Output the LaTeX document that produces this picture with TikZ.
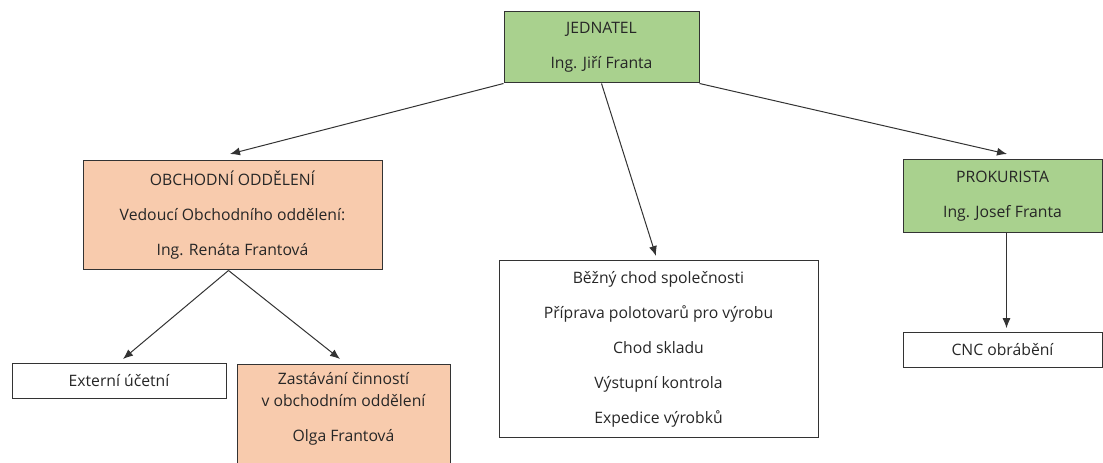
\documentclass[tikz,border=0pt]{standalone}
\usepackage{fontspec}
\setmainfont{Open Sans}
\usepackage{tikz}
\usetikzlibrary{positioning}
\usetikzlibrary{arrows.meta}
\definecolor{leadgreen}{HTML}{A9D18E}
\definecolor{deptorange}{HTML}{F8CBAD}
\definecolor{edgegray}{HTML}{333333}
\tikzset{>={Latex[length=7.5pt,width=6pt]}}
\tikzset{unit/.style={draw=edgegray,line width=0.75pt,inner sep=0pt,align=center,
                      text=black!85,font=\fontsize{11.8}{26.25}\selectfont}}
\tikzset{lead/.style={unit,fill=leadgreen}}
\tikzset{dept/.style={unit,fill=deptorange}}
\tikzset{link/.style={->,edgegray,line width=0.75pt}}

\begin{document}
\begin{tikzpicture}[x=0.75pt,y=-0.75pt]

\useasboundingbox (0,0) rectangle (1103,463);

% Jednatel
\node[lead,minimum width=146.25pt,minimum height=53.25pt] (jednatel) at (601.5,47.5)
  {JEDNATEL\\Ing. Jiří Franta};

% Obchodni oddeleni
\node[dept,minimum width=224.25pt,minimum height=81.75pt] (obchod) at (232.5,215.5)
  {OBCHODNÍ ODDĚLENÍ\\Vedoucí Obchodního oddělení:\\Ing. Renáta Frantová};

% Prokurista
\node[lead,minimum width=149.25pt,minimum height=54.75pt] (prokura) at (1002.5,196.5)
  {PROKURISTA\\Ing. Josef Franta};

% Cinnosti
\node[unit,minimum width=239.25pt,minimum height=132pt] (chod) at (658.5,349)
  {Běžný chod společnosti\\Příprava polotovarů pro výrobu\\Chod skladu\\Výstupní kontrola\\Expedice výrobků};

% Externi ucetni
\node[unit,minimum width=160.5pt,minimum height=26.25pt] (externi) at (119,380.5)
  {Externí účetní};

% Zastavani cinnosti (runs past the bottom edge)
\node[dept,anchor=north,minimum width=159.75pt,inner ysep=6pt,text depth=60pt] (zastup) at (343.5,364)
  {Zastávání činností\\[-9.5pt]v obchodním oddělení\\Olga Frantová};

% CNC
\node[unit,minimum width=149.25pt,minimum height=26.25pt] (cnc) at (1002.5,349.5)
  {CNC obrábění};

% Arrow tips
\coordinate (obchodTip) at (230,154);
\coordinate (chodTip) at (656,256);
\coordinate (prokuraTip) at (1007,154);
\coordinate (externiTip) at (123,359);
\coordinate (zastupTip) at (340,359);

% Connectors
\draw[link] (jednatel.south west) -- (obchodTip);
\draw[link] (jednatel.south) -- (chodTip);
\draw[link] (jednatel.south east) -- (prokuraTip);
\draw[link] ([xshift=-3pt]obchod.south) -- (externiTip);
\draw[link] ([xshift=-3pt]obchod.south) -- (zastupTip);
\draw[link,shorten >=2.5pt] ([xshift=3pt]prokura.south) -- ([xshift=3pt]cnc.north);

\end{tikzpicture}
\end{document}
